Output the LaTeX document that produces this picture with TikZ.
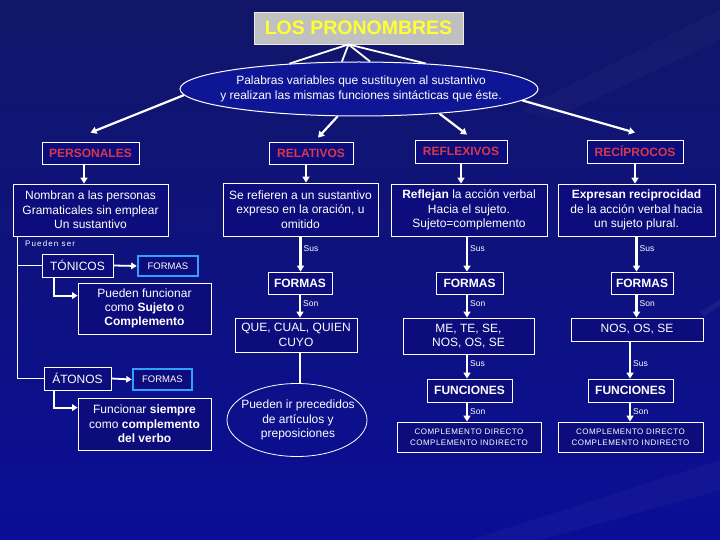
\documentclass[tikz,border=0pt]{standalone}
\usepackage{fontspec}
\setmainfont{Liberation Sans}
\usetikzlibrary{arrows.meta,shapes.geometric,calc}
\definecolor{bgtop}{RGB}{18,22,104}
\definecolor{bgmid}{RGB}{14,18,162}
\definecolor{bgbot}{RGB}{10,14,150}
\definecolor{boxfill}{RGB}{12,12,124}
\definecolor{ellfill}{RGB}{14,22,150}
\definecolor{catred}{RGB}{214,56,76}
\definecolor{cyanb}{RGB}{51,160,255}
\definecolor{titlegray}{RGB}{192,192,192}
\definecolor{titleyellow}{RGB}{255,255,51}
\tikzset{
  bx/.style={draw=white, line width=0.8pt, fill=boxfill, text=white, align=center, inner sep=0pt,
    font=\fontsize{12}{14.3}\selectfont},
  catbox/.style={bx, text=catred, font=\bfseries\fontsize{12}{14}\selectfont},
  boldbox/.style={bx, font=\bfseries\fontsize{12}{14}\selectfont},
  compbox/.style={bx, font=\addfontfeatures{LetterSpace=6}\fontsize{8}{11}\selectfont},
  cyanbox/.style={draw=cyanb, line width=2.6pt, fill=boxfill, text=white, inner sep=0pt,
    font=\fontsize{9.5}{11}\selectfont},
  txt/.style={text=white, align=center, inner sep=0pt, font=\fontsize{12}{14.5}\selectfont},
  bigarr/.style={draw=white, line width=2.2pt, -{Triangle[length=6pt,width=7pt]}},
  medarr/.style={draw=white, line width=1.8pt, -{Triangle[length=5.5pt,width=6.5pt]}},
  thinline/.style={draw=white, line width=1.1pt},
  fanline/.style={draw=white, line width=1.8pt},
  smalllbl/.style={text=white, font=\fontsize{8.5}{10}\selectfont, inner sep=0pt, anchor=west},
}
\begin{document}
\begin{tikzpicture}[x=1pt,y=-1pt]
\useasboundingbox (0,0) rectangle (720,540);
% background
\shade[top color=bgtop, middle color=bgmid, bottom color=bgbot] (0,0) rectangle (720,540);
\fill[white, opacity=0.03] (470,540) -- (720,460) -- (720,490) -- (540,540) -- cycle;
\fill[white, opacity=0.05] (700,312) -- (720,300) -- (720,306) -- (704,316) -- cycle;
\fill[white, opacity=0.025] (520,110) -- (720,10) -- (720,40) -- (550,120) -- cycle;

% title
\node[draw=white!85!gray, line width=0.8pt, fill=titlegray, text=titleyellow, inner sep=0pt,
  minimum width=209pt, minimum height=32pt, font=\bfseries\fontsize{19.5}{22}\selectfont]
  (title) at (358.5,28) {LOS PRONOMBRES};

% main ellipse
\node[draw=white, line width=1pt, ellipse, fill=ellfill, inner sep=0pt,
  minimum width=358pt, minimum height=54pt] (mainell) at (359,89) {};
\node[txt, font=\fontsize{12}{15}\selectfont] (mainelltxt) at (361,89)
  {Palabras variables que sustituyen al sustantivo\\y realizan las mismas funciones sintácticas que éste.};

\coordinate (fanpt) at ([xshift=-10pt]title.south);
\draw[fanline] (fanpt) -- (mainell.160);
\draw[fanline] (fanpt) -- (mainell.122);
\draw[fanline] (fanpt) -- (mainell.68);
\draw[fanline] (fanpt) -- (mainell.21);

% categories
\node[catbox, minimum width=97pt, minimum height=22pt] (pers) at (90.5,153) {PERSONALES};
\node[catbox, minimum width=84pt, minimum height=22pt] (rel) at (311,153) {RELATIVOS};
\node[catbox, minimum width=92pt, minimum height=23pt] (refl) at (461,151.5) {REFLEXIVOS};
\node[catbox, minimum width=96pt, minimum height=23pt] (reci) at (635,151.5) {RECÍPROCOS};

\draw[bigarr] (mainell.182) -- ([yshift=9pt]pers.north);
\draw[bigarr] (mainell.232) -- ([xshift=7pt,yshift=4pt]rel.north);
\draw[bigarr] (mainell.343) -- ([xshift=6pt,yshift=5pt]refl.north);
\draw[bigarr] (mainell.356) -- ([yshift=7pt]reci.north);

% description boxes
\node[bx, minimum width=155pt, minimum height=52pt] (persdesc) at (90.5,210)
  {Nombran a las personas\\Gramaticales sin emplear\\Un sustantivo};
\node[bx, minimum width=155pt, minimum height=53pt] (reldesc) at (300.5,209.5)
  {Se refieren a un sustantivo\\expreso en la oración, u\\omitido};
\node[bx, minimum width=156pt, minimum height=52pt] (refldesc) at (469,210)
  {\textbf{Reflejan} la acción verbal\\Hacia el sujeto.\\Sujeto=complemento};
\node[bx, minimum width=157pt, minimum height=52pt] (recidesc) at (636.5,210)
  {\textbf{Expresan reciprocidad}\\de la acción verbal hacia\\un sujeto plural.};

\coordinate (persarr) at ([xshift=-6.5pt]pers.south);
\draw[bigarr] (persarr) -- (persarr |- persdesc.north);
\coordinate (relarr) at ([xshift=-5pt]rel.south);
\draw[bigarr] (relarr) -- (relarr |- reldesc.north);
\draw[bigarr] (refl.south) -- (refl.south |- refldesc.north);
\draw[bigarr] (reci.south) -- (reci.south |- recidesc.north);

% personales subtree
\node[smalllbl, font=\addfontfeatures{LetterSpace=14}\fontsize{8}{10}\selectfont] (pueden) at (25,243.5) {Pueden ser};
\node[bx, minimum width=71pt, minimum height=23pt] (ton) at (77.5,265.5) {TÓNICOS};
\node[cyanbox, minimum width=60pt, minimum height=20pt] (tonformas) at (168,266) {FORMAS};
\node[bx, minimum width=133pt, minimum height=51pt] (tondesc) at (144.5,308.5)
  {Pueden funcionar\\como \textbf{Sujeto} o\\\textbf{Complemento}};
\node[bx, minimum width=67pt, minimum height=23pt] (aton) at (77.5,378.5) {ÁTONOS};
\node[cyanbox, minimum width=59pt, minimum height=21pt] (atonformas) at (162.5,379.5) {FORMAS};
\node[bx, minimum width=133pt, minimum height=52pt] (atondesc) at (144.5,424)
  {Funcionar \textbf{siempre}\\como \textbf{complemento}\\\textbf{del verbo}};

\coordinate (trunk) at ([xshift=5pt]persdesc.south west);
\draw[thinline] (trunk) |- (aton.west);
\draw[thinline] (trunk |- ton.west) -- (ton.west);
\draw[medarr] (ton.east) -- (tonformas.west);
\draw[medarr] (aton.east) -- (atonformas.west);
\coordinate (tonbr) at ([xshift=12pt]ton.south west);
\draw[medarr] (tonbr) |- ([yshift=-13pt]tondesc.north west);
\coordinate (atonbr) at ([xshift=10pt]aton.south west);
\draw[medarr] (atonbr) |- ([yshift=-10pt]atondesc.north west);

% relativos column
\node[boldbox, minimum width=64pt, minimum height=22pt] (relformas) at (300,283) {FORMAS};
\node[bx, minimum width=122pt, minimum height=34pt] (relque) at (296,335) {QUE, CUAL, QUIEN\\CUYO};
\node[draw=white, line width=0.8pt, ellipse, inner sep=0pt, minimum width=140pt, minimum height=73pt]
  (relell) at (297,420) {};
\node[txt] (relelltxt) at (298,420) {Pueden ir precedidos\\de artículos y\\preposiciones};
\draw[bigarr] (reldesc.south) -- (reldesc.south |- relformas.north);
\node[smalllbl] (relsus) at ([xshift=3pt,yshift=-12pt]reldesc.south) {Sus};
\draw[bigarr] (relformas.south) -- (relformas.south |- relque.north);
\node[smalllbl] (relson) at ([xshift=3pt,yshift=-9pt]relformas.south) {Son};
\coordinate (relqarr) at ([xshift=4pt]relque.south);
\draw[thinline] (relqarr) -- (relqarr |- relell.north);

% reflexivos column
\node[boldbox, minimum width=67pt, minimum height=22pt] (reflformas) at (469.5,283) {FORMAS};
\node[bx, minimum width=131pt, minimum height=36pt] (reflme) at (468.5,336) {ME, TE, SE,\\NOS, OS, SE};
\node[boldbox, minimum width=85pt, minimum height=23pt] (reflfunc) at (469.5,390.5) {FUNCIONES};
\node[compbox, minimum width=144pt, minimum height=30pt] (reflcomp) at (469,437)
  {COMPLEMENTO DIRECTO\\COMPLEMENTO INDIRECTO};
\coordinate (reflx) at ([xshift=-2pt]refldesc.south);
\draw[bigarr] (reflx) -- (reflx |- reflformas.north);
\node[smalllbl] (reflsus) at ([xshift=3pt,yshift=-12pt]reflx) {Sus};
\draw[bigarr] (reflx |- reflformas.south) -- (reflx |- reflme.north);
\node[smalllbl] (reflson) at ([xshift=3pt,yshift=-9pt]reflx |- reflformas.south) {Son};
\draw[bigarr] (reflx |- reflme.south) -- (reflx |- reflfunc.north);
\node[smalllbl] (reflsus2) at ([xshift=3pt,yshift=-9pt]reflx |- reflme.south) {Sus};
\draw[bigarr] (reflx |- reflfunc.south) -- (reflx |- reflcomp.north);
\node[smalllbl] (reflson2) at ([xshift=3pt,yshift=-9pt]reflx |- reflfunc.south) {Son};

% reciprocos column
\node[boldbox, minimum width=62pt, minimum height=22pt] (reciformas) at (642,283) {FORMAS};
\node[bx, minimum width=132pt, minimum height=23pt] (recinos) at (637,329.5) {NOS, OS, SE};
\node[boldbox, minimum width=85pt, minimum height=23pt] (recifunc) at (630.5,390.5) {FUNCIONES};
\node[compbox, minimum width=145pt, minimum height=30pt] (recicomp) at (630.5,437)
  {COMPLEMENTO DIRECTO\\COMPLEMENTO INDIRECTO};
\coordinate (recix) at (recidesc.south);
\draw[bigarr] (recix) -- (recix |- reciformas.north);
\node[smalllbl] (recisus) at ([xshift=3pt,yshift=-12pt]recix) {Sus};
\draw[bigarr] (recix |- reciformas.south) -- (recix |- recinos.north);
\node[smalllbl] (recison) at ([xshift=3pt,yshift=-9pt]recix |- reciformas.south) {Son};
\coordinate (recix2) at ([xshift=-7pt]recinos.south);
\draw[bigarr] (recix2) -- (recix2 |- recifunc.north);
\node[smalllbl] (recisus2) at ([xshift=3pt,yshift=-22pt]recix2) {Sus};
\draw[bigarr] (recix2 |- recifunc.south) -- (recix2 |- recicomp.north);
\node[smalllbl] (recison2) at ([xshift=3pt,yshift=-9pt]recix2 |- recifunc.south) {Son};
\end{tikzpicture}
\end{document}
